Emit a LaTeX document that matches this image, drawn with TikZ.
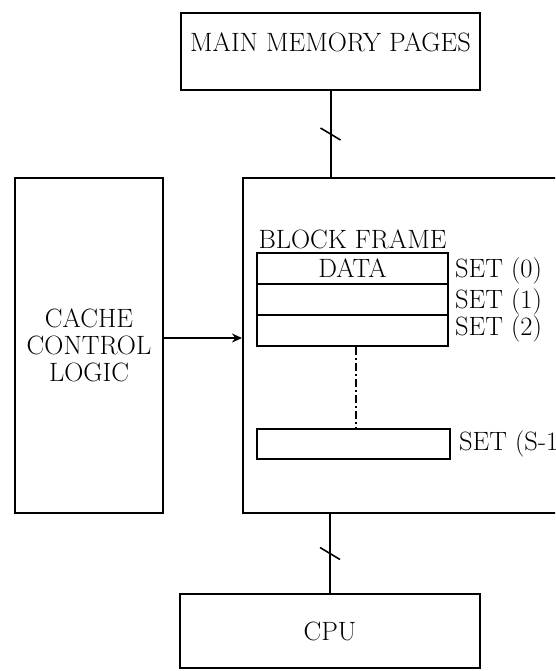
\documentclass[tikz,border=0pt]{standalone}
\usepackage{fontspec}
\usetikzlibrary{arrows.meta}
\begin{document}
\begin{tikzpicture}[x=1pt,y=-1pt,
  box/.style={draw,line width=2pt,inner sep=0pt},
  lbl/.style={font=\fontsize{26.5}{27}\selectfont,inner sep=0pt,align=center},
  wire/.style={line width=2pt},
  arr/.style={line width=2pt,-{Stealth[length=10pt,width=9pt]}}]
\useasboundingbox (0,0) rectangle (555,671);
\clip (0,0) rectangle (555,671);
% boxes
\node[box,minimum width=299pt,minimum height=77pt,
  label={[lbl,yshift=9pt]center:MAIN MEMORY PAGES}] (mem) at (330.5,51.5) {};
\node[box,minimum width=148pt,minimum height=335pt,lbl] (ccl) at (89,345.5)
  {CACHE\\CONTROL\\LOGIC};
\node[box,minimum width=357pt,minimum height=335pt] (cache) at (421.5,345.5) {};
\node[box,minimum width=300pt,minimum height=74pt,lbl] (cpu) at (330,631) {CPU};
% block frame
\node[lbl] (bf) at (352.5,239) {BLOCK FRAME};
\node[box,minimum width=191pt,minimum height=31pt,lbl] (r0) at (352.5,268.5) {DATA};
\node[box,minimum width=191pt,minimum height=31pt] (r1) at (352.5,299.5) {};
\node[box,minimum width=191pt,minimum height=31pt] (r2) at (352.5,330.5) {};
\node[box,minimum width=193pt,minimum height=30pt] (rs) at (353.5,444) {};
\node[lbl,anchor=west] (s0) at ([xshift=6pt,yshift=-2pt]r0.east) {SET (0)};
\node[lbl,anchor=west] (s1) at ([xshift=6pt,yshift=-2pt]r1.east) {SET (1)};
\node[lbl,anchor=west] (s2) at ([xshift=6pt,yshift=2pt]r2.east) {SET (2)};
\node[lbl,anchor=west] (ss) at ([xshift=8pt]rs.east) {SET (S-1)};
% connectors
\draw[wire,dash pattern=on 8pt off 3pt on 2pt off 3pt] ([xshift=3pt]r2.south) -- ([xshift=2pt]rs.north);
\draw[arr] ([yshift=7.5pt]ccl.east) -- ([yshift=7.5pt]ccl.east -| cache.west);
\draw[wire] (mem.south) -- node[midway,inner sep=0pt] (t1) {} (mem.south |- cache.north);
\draw[wire] (cpu.north |- cache.south) -- node[midway,inner sep=0pt] (t2) {} (cpu.north);
\draw[line width=1.6pt] ([shift={(-10pt,6pt)}]t1.center) -- ([shift={(10pt,-6pt)}]t1.center);
\draw[line width=1.6pt] ([shift={(-10pt,6pt)}]t2.center) -- ([shift={(10pt,-6pt)}]t2.center);
\end{tikzpicture}
\end{document}
